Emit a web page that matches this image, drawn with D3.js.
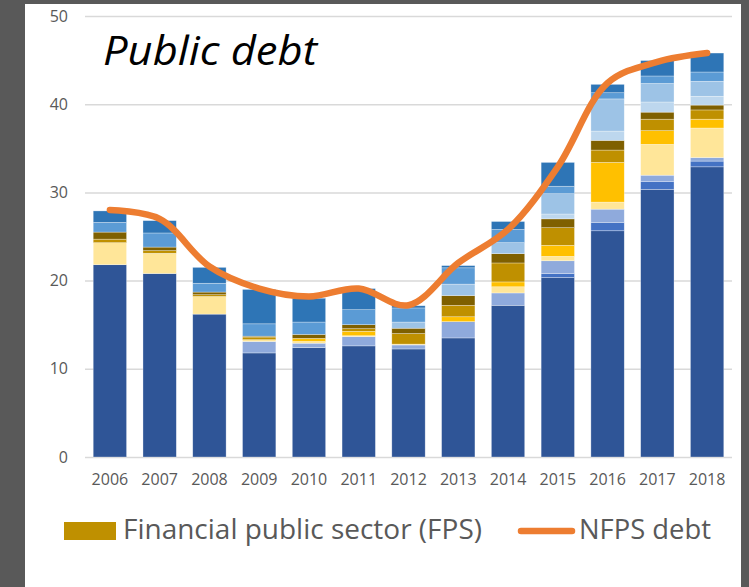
<!DOCTYPE html>
<html>
<head>
<meta charset="utf-8">
<script src="https://cdn.jsdelivr.net/npm/d3@7"></script>
<style>
  html, body { margin: 0; padding: 0; background: #595959; }
  svg { display: block; }
</style>
</head>
<body>
<script>
/**
 * DATA
 * */
const years = ["2006", "2007", "2008", "2009", "2010", "2011", "2012",
  "2013", "2014", "2015", "2016", "2017", "2018"];

// stacked components, bottom to top
const seriesNames = ["c1", "c2", "c3", "c4", "c5", "Financial public sector (FPS)",
  "c7", "c8", "c9", "c10", "c11"];
const seriesColors = ["#2F5597", "#4472C4", "#8FAADC", "#FFE699", "#FFC000", "#BF9000",
  "#7F6000", "#BDD7EE", "#9DC3E6", "#5B9BD5", "#2E75B6"];

const c1 = [21.8, 20.8, 16.2, 11.8, 12.4, 12.6, 12.25, 13.5, 17.2, 20.35, 25.65, 30.35, 32.9];
const c2 = [0, 0, 0, 0, 0, 0, 0, 0, 0, 0.45, 0.95, 0.9, 0.65];
const c3 = [0, 0, 0, 1.3, 0.5, 1.05, 0.45, 1.85, 1.4, 1.45, 1.5, 0.7, 0.4];
const c4 = [2.5, 2.3, 2.0, 0.2, 0.2, 0.1, 0.1, 0, 0.7, 0.5, 0.8, 3.5, 3.35];
const c5 = [0, 0, 0, 0, 0.35, 0.5, 0, 0.55, 0.55, 1.25, 4.5, 1.55, 1.0];
const fps = [0.4, 0.3, 0.2, 0.3, 0, 0.3, 1.2, 1.3, 2.15, 2.0, 1.4, 1.3, 1.05];
const c7 = [0.8, 0.4, 0.3, 0.1, 0.45, 0.45, 0.6, 1.1, 1.05, 1.0, 1.1, 0.8, 0.55];
const c8 = [0, 0, 0, 0, 0, 0, 0, 0, 0, 0.55, 1.05, 1.15, 1.0];
const c9 = [0, 0, 0, 0, 0, 0, 0.7, 1.3, 1.25, 2.3, 3.65, 2.1, 1.7];
const c10 = [1.1, 1.6, 1.0, 1.4, 1.4, 1.7, 1.6, 1.85, 1.5, 0.85, 0.7, 0.85, 1.05];
const c11 = [1.3, 1.4, 1.8, 3.9, 2.7, 2.4, 0.25, 0.25, 0.9, 2.7, 0.95, 1.75, 2.15];

const nfpsDebt = [28.0, 27.0, 21.6, 19.1, 18.2, 19.1, 17.2, 22.0, 25.8, 32.9, 42.4, 44.8, 45.8];

const yTicks = [0, 10, 20, 30, 40, 50];

/**
 * CONSTANTS
 * */
const width = 749, height = 587;
const plot = { left: 85, right: 732, top: 16, bottom: 457 };
const font = "'Open Sans', 'Noto Sans', sans-serif";
const textColor = "#595959";

const seriesValues = [c1, c2, c3, c4, c5, fps, c7, c8, c9, c10, c11];
const rows = years.map((y, i) => {
  const row = { year: y };
  seriesNames.forEach((n, j) => (row[n] = seriesValues[j][i]));
  return row;
});

const svg = d3.select("body").append("svg")
  .attr("width", width)
  .attr("height", height);

// white card
svg.append("rect")
  .attr("x", 25).attr("y", 4)
  .attr("width", 716).attr("height", height - 4)
  .attr("fill", "#fff");

const x = d3.scaleBand()
  .domain(years)
  .range([plot.left, plot.right])
  .paddingInner(0.33)
  .paddingOuter(0.165);

const y = d3.scaleLinear()
  .domain([0, 50])
  .range([plot.bottom, plot.top]);

// gridlines
svg.append("g")
  .attr("transform", `translate(${plot.left},0)`)
  .call(d3.axisLeft(y).tickValues(yTicks).tickSize(-(plot.right - plot.left)).tickFormat(""))
  .call(g => g.select(".domain").remove())
  .call(g => g.selectAll("line").attr("stroke", "#D9D9D9").attr("stroke-width", 1.5));

// y labels
svg.append("g")
  .attr("transform", `translate(68,0)`)
  .call(d3.axisLeft(y).tickValues(yTicks).tickSize(0).tickPadding(0))
  .call(g => g.select(".domain").remove())
  .call(g => g.selectAll("text")
    .attr("font-family", font).attr("font-size", 16).attr("fill", textColor));

// x labels
svg.append("g")
  .attr("transform", `translate(0,${plot.bottom})`)
  .call(d3.axisBottom(x).tickSize(0).tickPadding(17))
  .call(g => g.select(".domain").remove())
  .call(g => g.selectAll("text")
    .attr("font-family", font).attr("font-size", 16).attr("fill", textColor));

// stacked bars
const stacked = d3.stack().keys(seriesNames)(rows);

svg.append("g")
  .selectAll("g")
  .data(stacked)
  .join("g")
  .attr("fill", (d, i) => seriesColors[i])
  .selectAll("rect")
  .data(d => d.filter(s => s[1] - s[0] > 0))
  .join("rect")
  .attr("x", d => x(d.data.year))
  .attr("width", x.bandwidth())
  .attr("y", d => y(d[1]))
  .attr("height", d => y(d[0]) - y(d[1]))
  .attr("stroke", "#fff")
  .attr("stroke-opacity", 0.5)
  .attr("stroke-width", 0.6);

// NFPS debt line
const line = d3.line()
  .x((d, i) => x(years[i]) + x.bandwidth() / 2)
  .y(d => y(d))
  .curve(d3.curveCatmullRom.alpha(0.5));

svg.append("path")
  .datum(nfpsDebt)
  .attr("d", line)
  .attr("fill", "none")
  .attr("stroke", "#ED7D31")
  .attr("stroke-width", 6.5)
  .attr("stroke-linecap", "round")
  .attr("stroke-linejoin", "round");

// title
svg.append("text")
  .attr("x", 103).attr("y", 65)
  .attr("font-family", font)
  .attr("font-style", "italic")
  .attr("font-size", 40)
  .attr("textLength", 214)
  .attr("lengthAdjust", "spacingAndGlyphs")
  .attr("fill", "#000")
  .text("Public debt");

// legend
const legend = svg.append("g");
legend.append("rect")
  .attr("x", 64).attr("y", 522)
  .attr("width", 52).attr("height", 18)
  .attr("fill", seriesColors[5]);
legend.append("text")
  .attr("x", 123).attr("y", 539)
  .attr("font-family", font).attr("font-size", 28)
  .attr("textLength", 359).attr("lengthAdjust", "spacingAndGlyphs")
  .attr("fill", textColor)
  .text("Financial public sector (FPS)");
legend.append("line")
  .attr("x1", 521).attr("x2", 572)
  .attr("y1", 531).attr("y2", 531)
  .attr("stroke", "#ED7D31").attr("stroke-width", 6.5)
  .attr("stroke-linecap", "round");
legend.append("text")
  .attr("x", 579).attr("y", 539)
  .attr("font-family", font).attr("font-size", 28)
  .attr("textLength", 132).attr("lengthAdjust", "spacingAndGlyphs")
  .attr("fill", textColor)
  .text("NFPS debt");
</script>
</body>
</html>
